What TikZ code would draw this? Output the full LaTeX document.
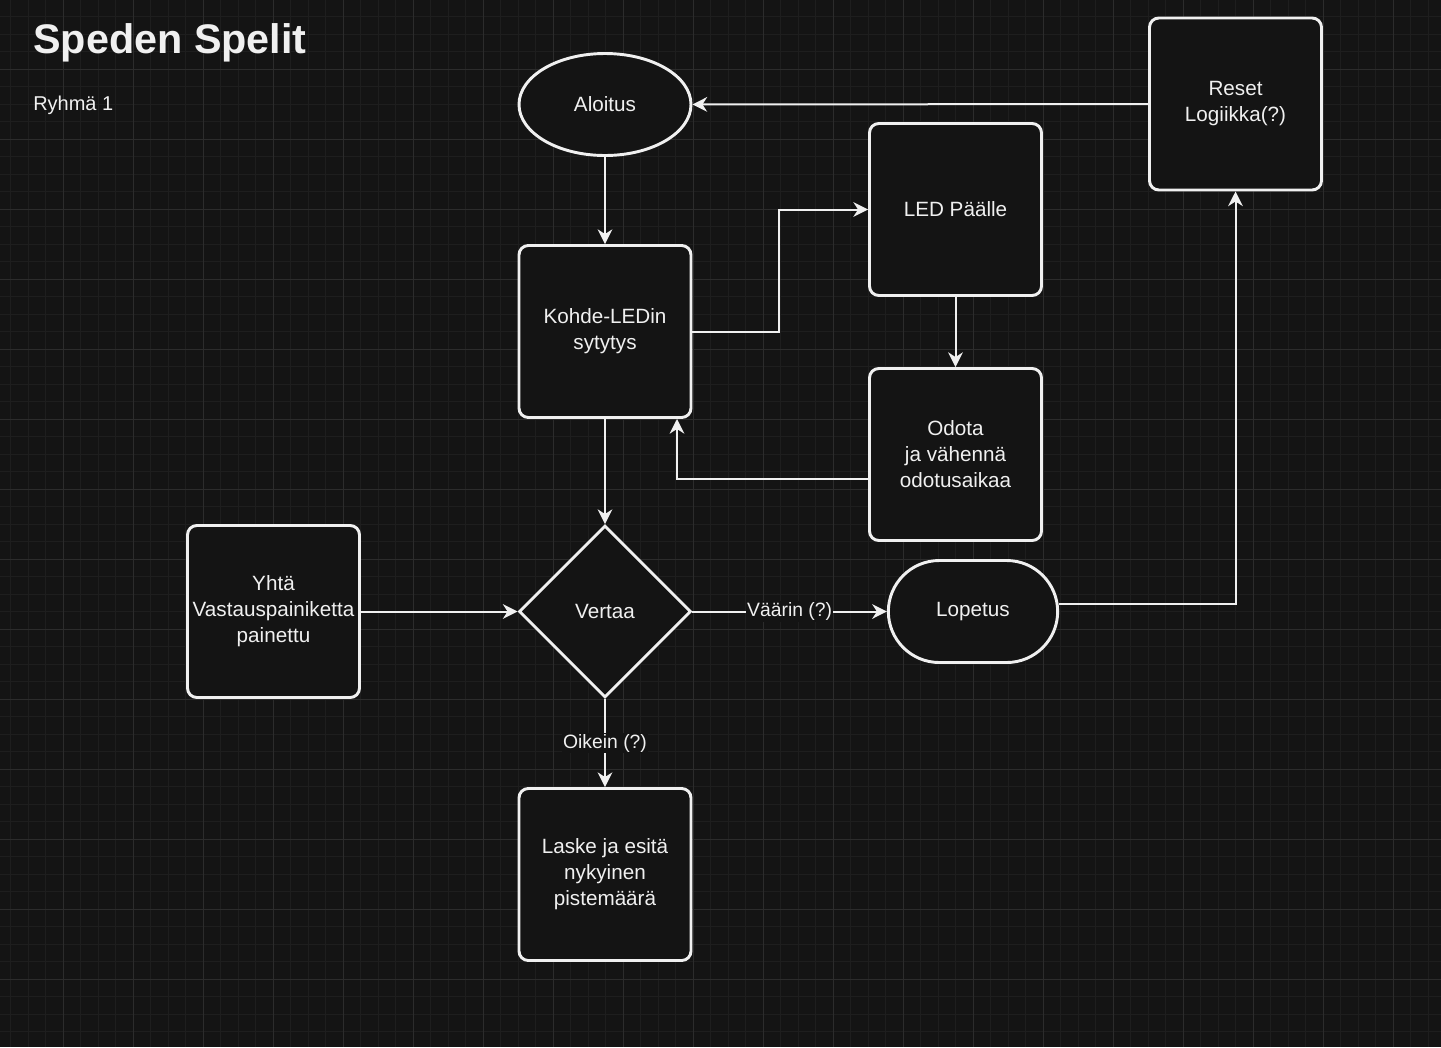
\documentclass[tikz,border=0pt]{standalone}
\usepackage{fontspec}
\setmainfont{Liberation Sans}
\usepackage{xcolor}
\usetikzlibrary{shapes.geometric,shapes.misc,arrows.meta}
\definecolor{bg}{HTML}{141414}
\definecolor{fg}{HTML}{F0F0F0}
\definecolor{minorgrid}{HTML}{1E1E1E}
\definecolor{majorgrid}{HTML}{2C2C2C}
\tikzset{flowbox/.style = {draw=fg, line width=2.2pt, fill=bg, text=fg,
  align=center, inner sep=2pt, font=\fontsize{15.5}{19.5}\selectfont}}

\begin{document}
\begin{tikzpicture}[x=0.75pt,y=-0.75pt,
  proc/.style={flowbox, rectangle, rounded corners=7pt, minimum width=129pt, minimum height=129pt},
  term/.style={flowbox, ellipse, minimum width=129pt, minimum height=76.5pt},
  stop/.style={flowbox, rounded rectangle, minimum width=128pt, minimum height=76.5pt},
  test/.style={flowbox, diamond, minimum width=129pt, minimum height=129pt},
  arr/.style={draw=fg, line width=1.5pt, -{Stealth[length=11pt,width=11pt,inset=3.5pt]}},
  lbl/.style={fill=bg, text=fg, inner sep=1pt, font=\fontsize{14.5}{17}\selectfont}]
  \useasboundingbox (0,0) rectangle (1441,1047);
  \fill[bg] (0,0) rectangle (1441,1047);
  \foreach \k in {0,...,81} \draw[minorgrid, line width=0.75pt] ({10.8+17.5*\k},0) -- ++(0,1047);
  \foreach \k in {0,...,58} \draw[minorgrid, line width=0.75pt] (0,{16.8+17.5*\k}) -- ++(1441,0);
  \foreach \k in {0,...,19} \draw[majorgrid, line width=0.75pt] ({63.3+70*\k},0) -- ++(0,1047);
  \foreach \k in {0,...,13} \draw[majorgrid, line width=0.75pt] (0,{69.3+70*\k}) -- ++(1441,0);

  \node[anchor=base west, inner sep=0, text=fg, font=\bfseries\fontsize{31}{36}\selectfont] (title) at (33,53) {Speden Spelit};
  \node[anchor=base west, inner sep=0, text=fg, font=\fontsize{15}{18}\selectfont] (group) at (33,110) {Ryhmä 1};

  \node[term] (alo) at (605,104.5) {Aloitus};
  \node[proc] (koh) at (605,331.5) {Kohde-LEDin\\sytytys};
  \node[proc] (led) at (955.5,209.5) {LED Päälle};
  \node[proc] (odo) at (955.5,454.5) {Odota\\ja vähennä\\odotusaikaa};
  \node[proc] (res) at (1235.5,104) {Reset\\Logiikka(?)};
  \node[proc] (yht) at (273.5,611.5) {Yhtä\\Vastauspainiketta\\painettu};
  \node[test] (ver) at (605,611.5) {Vertaa};
  \node[stop, minimum width=131pt] (lop) at (973,611.5) {Lopetus};
  \node[proc] (las) at (605,874.5) {Laske ja esitä\\nykyinen\\pistemäärä};

  \draw[arr] (alo) -- (koh);
  \draw[arr] (koh.east) -- ++(87,0) |- (led.west);
  \draw[arr] (led) -- (odo);
  \draw[arr] ([yshift=-18.4pt]odo.west) -| ([xshift=54pt]koh.south);
  \draw[arr] (koh) -- (ver);
  \draw[arr] (yht) -- (ver);
  \draw[arr] (ver) -- node[lbl] {Väärin (?)} (lop);
  \draw[arr] (ver) -- node[lbl] {Oikein (?)} (las);
  \draw[arr] ([yshift=5.6pt]lop.east) -| (res.south);
  \draw[arr] (res) -- (alo);
\end{tikzpicture}
\end{document}
